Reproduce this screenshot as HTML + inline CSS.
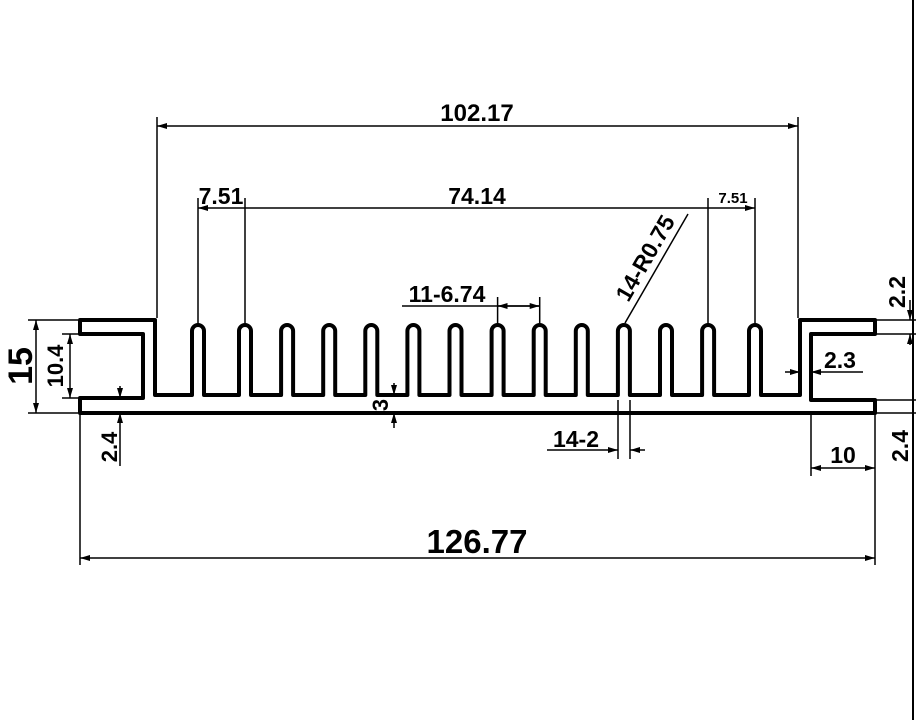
<!DOCTYPE html>
<html><head><meta charset="utf-8"><style>
html,body{margin:0;padding:0;background:#fff;}
svg{display:block}
text{font-family:"Liberation Sans",sans-serif;font-weight:bold;fill:#000}
</style></head><body>
<svg width="916" height="720" viewBox="0 0 916 720" xmlns="http://www.w3.org/2000/svg">
<defs>
<marker id="a" viewBox="0 0 10 6" refX="10" refY="3" markerWidth="10" markerHeight="6" orient="auto-start-reverse" markerUnits="userSpaceOnUse"><path d="M0,0 L10,3 L0,6 z" fill="#000"/></marker>
</defs>
<line x1="913" y1="0" x2="913" y2="720" stroke="#000" stroke-width="2"/>
<path fill="none" stroke="#000" stroke-width="4" stroke-linejoin="round" d="
M155,320 V395
H192 V331 A6,6 0 0 1 204,331 V395
H239 V331 A6,6 0 0 1 251,331 V395
H281.1 V331 A6,6 0 0 1 293.1,331 V395
H323.2 V331 A6,6 0 0 1 335.2,331 V395
H365.3 V331 A6,6 0 0 1 377.3,331 V395
H407.4 V331 A6,6 0 0 1 419.4,331 V395
H449.5 V331 A6,6 0 0 1 461.5,331 V395
H491.6 V331 A6,6 0 0 1 503.6,331 V395
H533.7 V331 A6,6 0 0 1 545.7,331 V395
H575.8 V331 A6,6 0 0 1 587.8,331 V395
H617.9 V331 A6,6 0 0 1 629.9,331 V395
H660 V331 A6,6 0 0 1 672,331 V395
H702.1 V331 A6,6 0 0 1 714.1,331 V395
H749 V331 A6,6 0 0 1 761,331 V395
H800 V320 H875 V334 H811 V400 H875 V413 H80 V398 H143 V334 H80 V320 Z"/>
<g stroke="#000" stroke-width="1.5" fill="none">
<line x1="157" y1="117" x2="157" y2="318"/>
<line x1="798" y1="117" x2="798" y2="318"/>
<line x1="157" y1="126" x2="798" y2="126" marker-start="url(#a)" marker-end="url(#a)"/>
<line x1="198" y1="198" x2="198" y2="325"/>
<line x1="245" y1="198" x2="245" y2="325"/>
<line x1="708" y1="198" x2="708" y2="325"/>
<line x1="755" y1="198" x2="755" y2="325"/>
<line x1="198" y1="208" x2="755" y2="208" marker-start="url(#a)" marker-end="url(#a)"/>
<line x1="497.6" y1="297" x2="497.6" y2="325"/>
<line x1="539.7" y1="297" x2="539.7" y2="325"/>
<line x1="402" y1="306" x2="539.7" y2="306"/>
<line x1="497.6" y1="306" x2="539.7" y2="306" marker-start="url(#a)" marker-end="url(#a)"/>
<line x1="625" y1="323" x2="688" y2="214"/>
<line x1="28" y1="320" x2="78" y2="320"/>
<line x1="28" y1="413" x2="78" y2="413"/>
<line x1="36" y1="320" x2="36" y2="413" marker-start="url(#a)" marker-end="url(#a)"/>
<line x1="62" y1="334" x2="80" y2="334"/>
<line x1="62" y1="398" x2="80" y2="398"/>
<line x1="70" y1="334" x2="70" y2="398" marker-start="url(#a)" marker-end="url(#a)"/>
<line x1="80" y1="413" x2="80" y2="565"/>
<line x1="120" y1="386" x2="120" y2="398" marker-end="url(#a)"/>
<line x1="120" y1="413" x2="120" y2="466" marker-start="url(#a)"/>
<line x1="394" y1="383" x2="394" y2="395" marker-end="url(#a)"/>
<line x1="394" y1="413" x2="394" y2="428" marker-start="url(#a)"/>
<line x1="618" y1="400" x2="618" y2="459"/>
<line x1="630" y1="400" x2="630" y2="459"/>
<line x1="547" y1="450" x2="618" y2="450" marker-end="url(#a)"/>
<line x1="630" y1="450" x2="645" y2="450" marker-start="url(#a)"/>
<line x1="785" y1="372" x2="800" y2="372" marker-end="url(#a)"/>
<line x1="811" y1="372" x2="863" y2="372" marker-start="url(#a)"/>
<line x1="875" y1="320" x2="916" y2="320"/>
<line x1="875" y1="334" x2="916" y2="334"/>
<line x1="910" y1="300" x2="910" y2="320" marker-end="url(#a)"/>
<line x1="910" y1="334" x2="910" y2="345" marker-start="url(#a)"/>
<line x1="875" y1="400" x2="916" y2="400"/>
<line x1="875" y1="413" x2="916" y2="413"/>
<line x1="811" y1="413" x2="811" y2="476"/>
<line x1="875" y1="413" x2="875" y2="565"/>
<line x1="811" y1="468" x2="875" y2="468" marker-start="url(#a)" marker-end="url(#a)"/>
<line x1="80" y1="558" x2="875" y2="558" marker-start="url(#a)" marker-end="url(#a)"/>
</g>
<text x="477" y="121" font-size="24" text-anchor="middle">102.17</text>
<text x="221" y="204" font-size="23" text-anchor="middle">7.51</text>
<text x="477" y="204" font-size="23" text-anchor="middle">74.14</text>
<text x="733" y="203" font-size="15" text-anchor="middle">7.51</text>
<text x="447" y="302" font-size="23" text-anchor="middle">11-6.74</text>
<text x="0" y="0" font-size="23" text-anchor="middle" transform="translate(652,262) rotate(-60)">14-R0.75</text>
<text x="0" y="0" font-size="34" text-anchor="middle" transform="translate(32,366) rotate(-90)">15</text>
<text x="0" y="0" font-size="22" text-anchor="middle" transform="translate(63,366) rotate(-90)">10.4</text>
<text x="0" y="0" font-size="22" text-anchor="middle" transform="translate(117,447) rotate(-90)">2.4</text>
<text x="0" y="0" font-size="22" text-anchor="middle" transform="translate(388,405) rotate(-90)">3</text>
<text x="576" y="447" font-size="23" text-anchor="middle">14-2</text>
<text x="840" y="368" font-size="23" text-anchor="middle">2.3</text>
<text x="0" y="0" font-size="23" text-anchor="middle" transform="translate(905,292) rotate(-90)">2.2</text>
<text x="0" y="0" font-size="23" text-anchor="middle" transform="translate(908,446) rotate(-90)">2.4</text>
<text x="843" y="463" font-size="23" text-anchor="middle">10</text>
<text x="477" y="553" font-size="33" text-anchor="middle">126.77</text>
</svg>
</body></html>
